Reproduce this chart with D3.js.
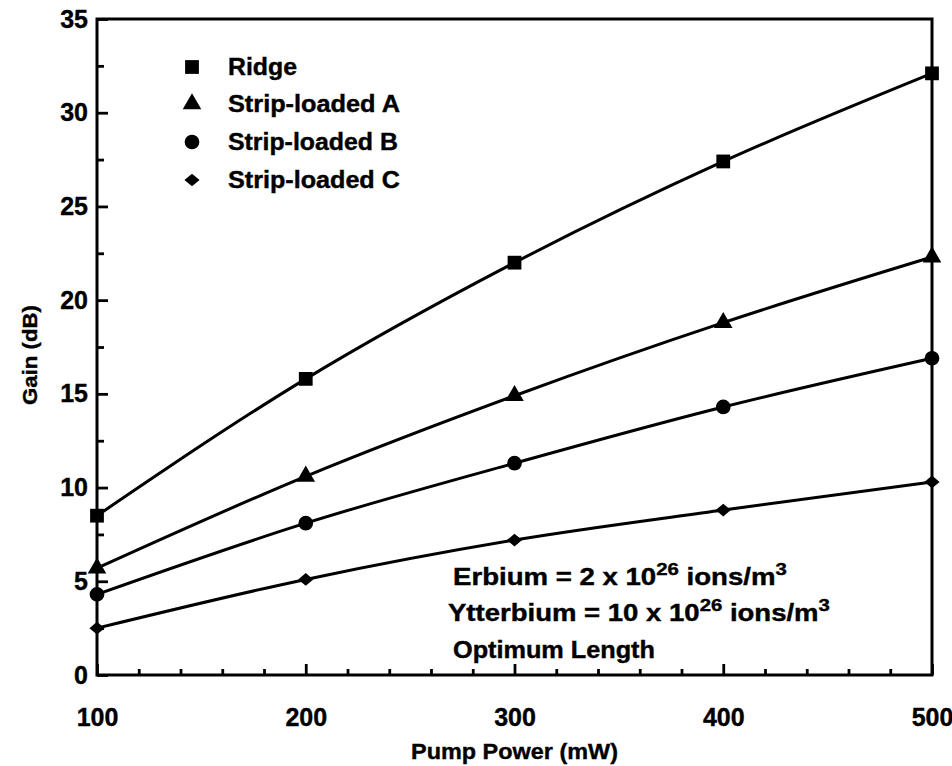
<!DOCTYPE html>
<html>
<head>
<meta charset="utf-8">
<script src="https://cdn.jsdelivr.net/npm/d3@7"></script>
<style>
  html, body { margin: 0; padding: 0; background: #fff; }
  svg text { font-family: "Liberation Sans", Arial, Helvetica, sans-serif; font-weight: bold; fill: #000; stroke: #000; stroke-width: 0.4px; }
</style>
</head>
<body>
<svg id="chart" width="952" height="766"></svg>
<script>
// Pump power (mW) at which gain was computed
const pumpPower = [100, 200, 300, 400, 500];

// Gain (dB) for each waveguide design
const ridge        = [8.5, 15.8, 22.0, 27.4, 32.1];
const stripLoadedA = [5.7, 10.6, 14.9, 18.8, 22.3];
const stripLoadedB = [4.3, 8.1, 11.3, 14.3, 16.9];
const stripLoadedC = [2.5, 5.1, 7.2, 8.8, 10.3];

const seriesNames = ["Ridge", "Strip-loaded A", "Strip-loaded B", "Strip-loaded C"];
const seriesValues = [ridge, stripLoadedA, stripLoadedB, stripLoadedC];

const xTicks = [100, 200, 300, 400, 500];
const yTicks = [0, 5, 10, 15, 20, 25, 30, 35];

const notes = [
  { text: "Erbium = 2 x 10", sup: "26", tail: " ions/m", sup2: "3" },
  { text: "Ytterbium = 10 x 10", sup: "26", tail: " ions/m", sup2: "3" },
  { text: "Optimum Length" }
];

const svg = d3.select("#chart");
const margin = { left: 97, right: 20, top: 19, bottom: 91 };
const W = 952, H = 766;

const x = d3.scaleLinear().domain([100, 500]).range([margin.left, W - margin.right]);
const y = d3.scaleLinear().domain([0, 35]).range([H - margin.bottom, margin.top]);

// Places a text block at (x0, y0) and stretches it horizontally to a given width
function fitText(g, x0, y0, width, extra = "") {
  const t = g.select("text");
  const w = t.node().getComputedTextLength();
  g.attr("transform", `translate(${x0},${y0}) ${extra} scale(${width / w},1)`);
}

// Diamond drawn wider than tall
const wideDiamond = {
  draw(ctx, size) {
    const w = Math.sqrt(size) * 0.6, h = Math.sqrt(size) * 0.5;
    ctx.moveTo(0, -h); ctx.lineTo(w, 0); ctx.lineTo(0, h); ctx.lineTo(-w, 0); ctx.closePath();
  }
};
const markerTypes = [
  d3.symbol().type(d3.symbolSquare).size(190),
  d3.symbol().type(d3.symbolTriangle).size(150),
  d3.symbol().type(d3.symbolCircle).size(170),
  d3.symbol().type(wideDiamond).size(160)
];

// Axes with inward ticks
const xAxis = svg.append("g")
  .attr("transform", `translate(0,${y(0)})`)
  .call(d3.axisBottom(x).tickValues(xTicks).tickFormat(d3.format("d"))
    .tickSize(-11).tickSizeOuter(0).tickPadding(33));
svg.append("g")
  .attr("transform", `translate(0,${y(0)})`)
  .call(d3.axisBottom(x).tickValues(d3.range(120, 500, 20).filter(v => v % 100 !== 0))
    .tickFormat("").tickSize(-6).tickSizeOuter(0));

const yAxis = svg.append("g")
  .attr("transform", `translate(${x(100)},0)`)
  .call(d3.axisLeft(y).tickValues(yTicks).tickFormat(d3.format("d"))
    .tickSize(-11).tickSizeOuter(0).tickPadding(9));
svg.append("g")
  .attr("transform", `translate(${x(100)},0)`)
  .call(d3.axisLeft(y).tickValues(d3.range(2.5, 35, 5))
    .tickFormat("").tickSize(-7).tickSizeOuter(0));

svg.selectAll(".domain").remove();
svg.selectAll(".tick line").attr("stroke", "#000").attr("stroke-width", 2.8);
xAxis.selectAll("text").style("font-size", "25px");
yAxis.selectAll("text").style("font-size", "25px");

// Plot frame
svg.append("rect")
  .attr("x", x(100)).attr("y", y(35))
  .attr("width", x(500) - x(100)).attr("height", y(0) - y(35))
  .attr("fill", "none").attr("stroke", "#000").attr("stroke-width", 3);

// Axis titles
const xTitle = svg.append("g");
xTitle.append("text").attr("text-anchor", "middle").style("font-size", "23px")
  .text("Pump Power (mW)");
fitText(xTitle, (x(100) + x(500)) / 2, 759, 207);

const yTitle = svg.append("g");
yTitle.append("text").attr("text-anchor", "middle").style("font-size", "21px")
  .text("Gain (dB)");
fitText(yTitle, 37, 355, 100, "rotate(-90)");

// Curves and markers
const line = d3.line()
  .x((d, i) => x(pumpPower[i]))
  .y(d => y(d))
  .curve(d3.curveMonotoneX);

seriesValues.forEach((vals, s) => {
  svg.append("path")
    .attr("d", line(vals))
    .attr("fill", "none").attr("stroke", "#000").attr("stroke-width", 3)
    .attr("stroke-linejoin", "round");
  svg.selectAll(null).data(vals).enter().append("path")
    .attr("d", markerTypes[s]())
    .attr("transform", (d, i) => `translate(${x(pumpPower[i])},${y(d)})`)
    .attr("fill", "#000");
});

// Legend
const legendY = [67, 104, 142, 180];
const legendWidth = [69, 172, 170, 172];
seriesNames.forEach((name, s) => {
  svg.append("path")
    .attr("d", markerTypes[s]())
    .attr("transform", `translate(192,${legendY[s]})`)
    .attr("fill", "#000");
  const g = svg.append("g");
  g.append("text").style("font-size", "23px").text(name);
  fitText(g, 228, legendY[s] + 8, legendWidth[s]);
});

// Doping / length annotations
const noteBase = [585, 621, 658];
const noteX = [453, 448, 453];
const noteWidth = [334, 382, 202];
notes.forEach((n, i) => {
  const g = svg.append("g");
  const t = g.append("text").style("font-size", "23px");
  t.append("tspan").text(n.text);
  if (n.sup) {
    t.append("tspan").attr("dy", -10).style("font-size", "17px").text(n.sup);
    t.append("tspan").attr("dy", 10).text(n.tail);
    t.append("tspan").attr("dy", -10).style("font-size", "17px").text(n.sup2);
  }
  fitText(g, noteX[i], noteBase[i], noteWidth[i]);
});
</script>
</body>
</html>
